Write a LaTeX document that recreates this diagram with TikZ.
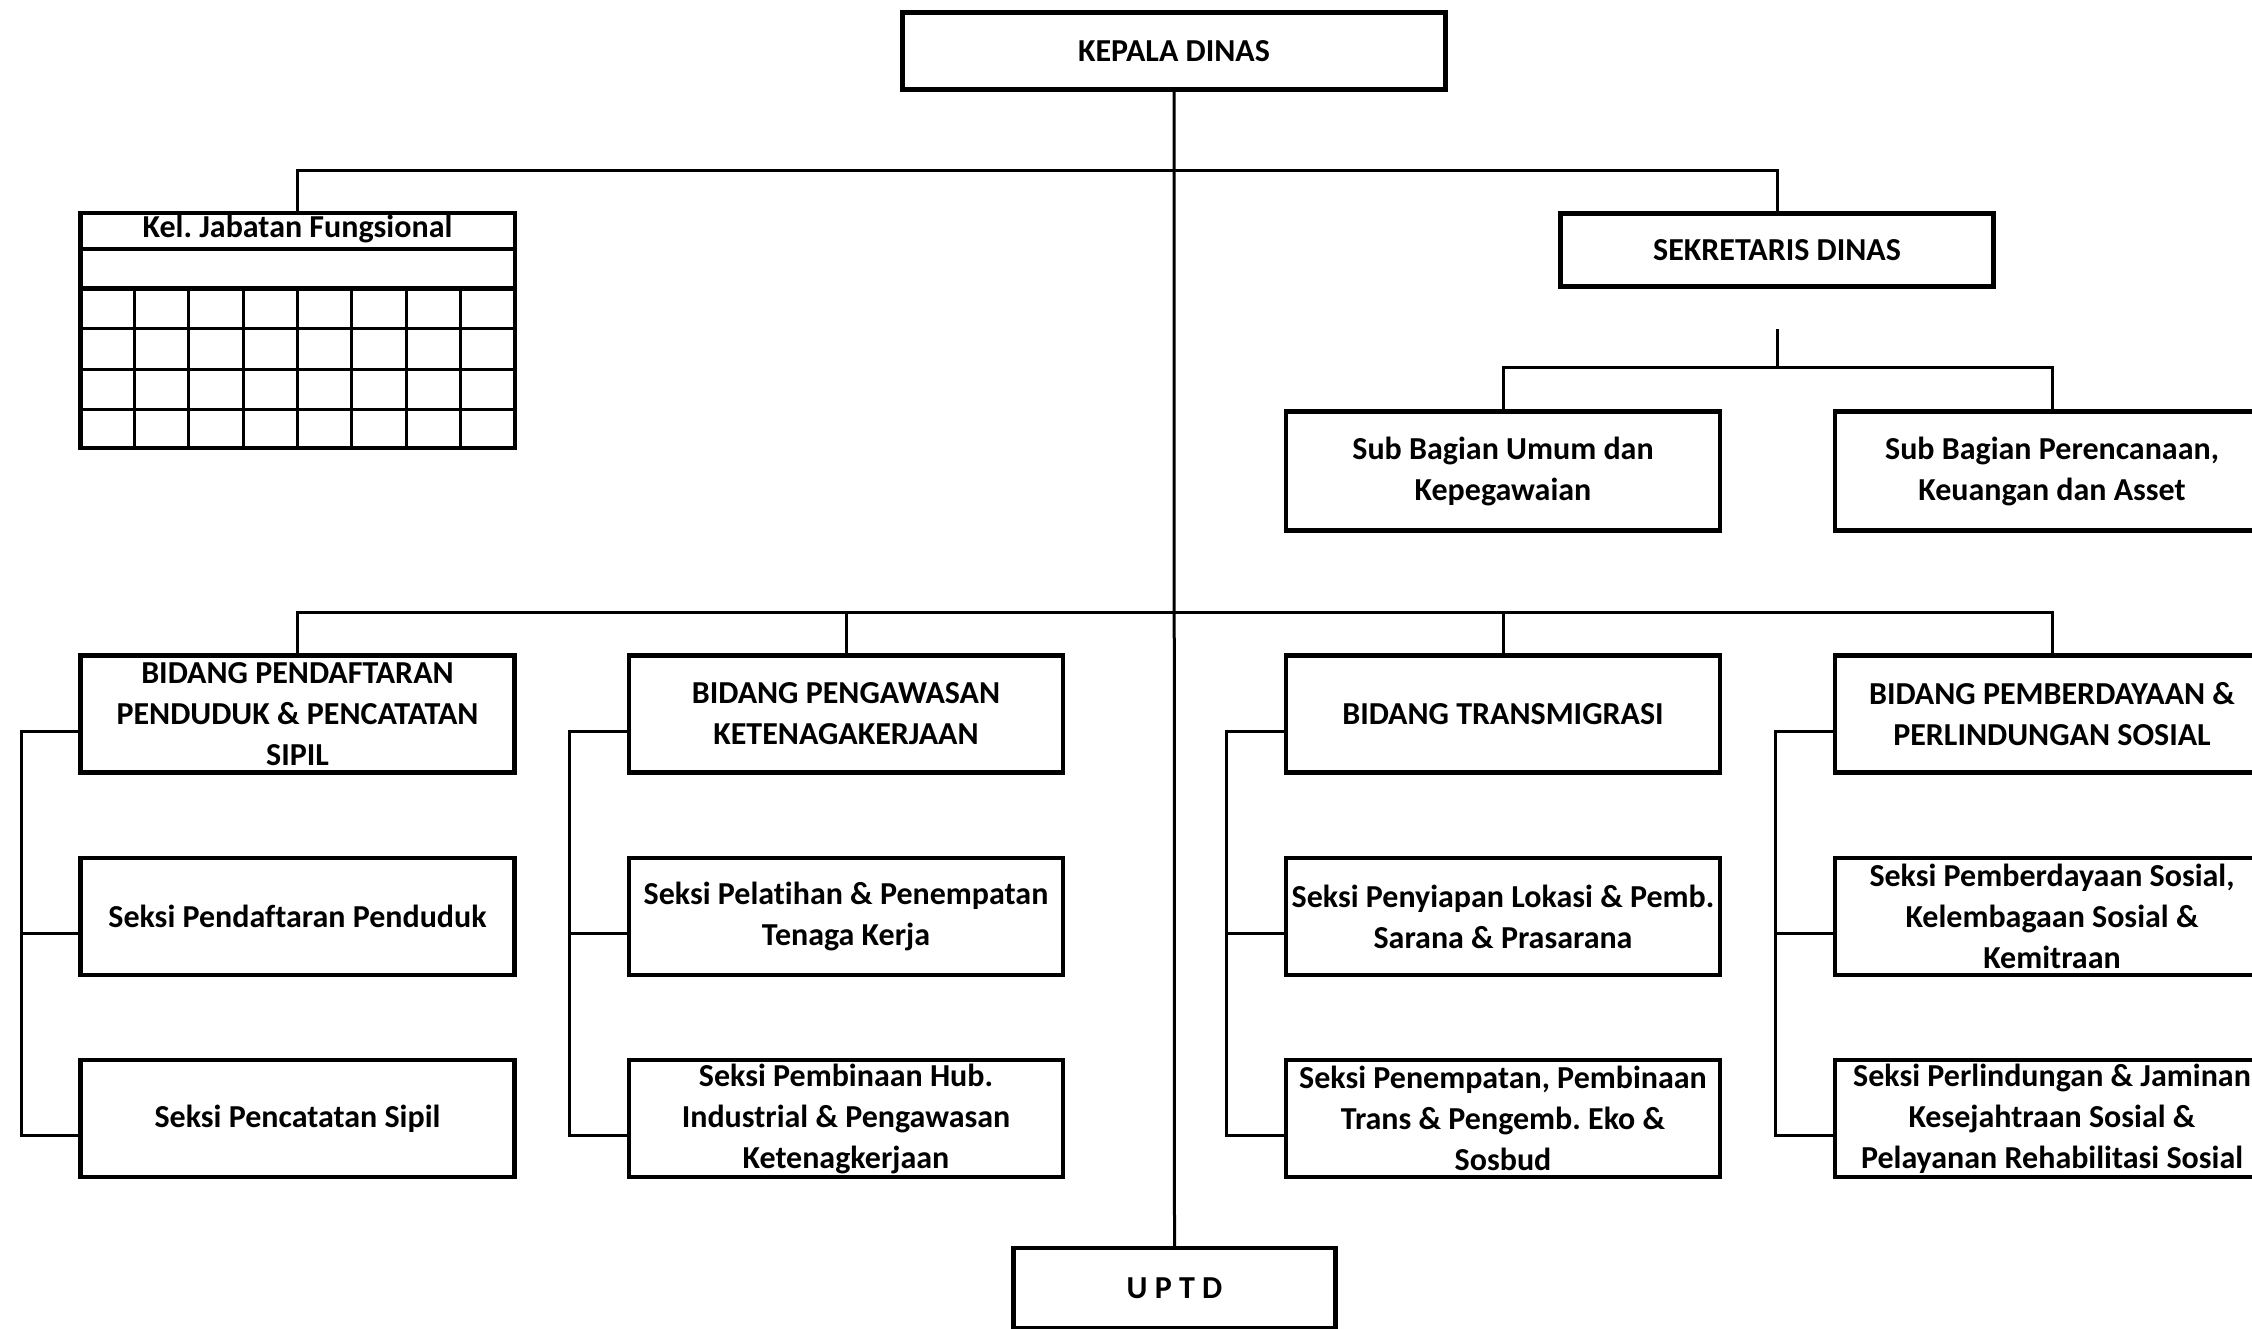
\documentclass[tikz,border=0pt]{standalone}
\usepackage{fontspec}
\newfontfamily\orgfont[Ligatures={NoCommon}]{Carlito}
\usetikzlibrary{calc}
\frenchspacing

\begin{document}
\begin{tikzpicture}[x=1pt,y=-1pt,
  boxfont/.style={font=\orgfont\bfseries\fontsize{32}{41}\selectfont},
  unit/.style={draw, line width=4.5pt, inner sep=0pt, align=center, boxfont,
               minimum width=434pt, minimum height=117pt},
  link/.style={line width=3pt},
  grid line/.style={line width=3pt},
  rule line/.style={line width=4.5pt}]

\useasboundingbox[fill=white] (0,0) rectangle (2252,1329);

% ---- top level
\node[unit, minimum width=543pt, minimum height=77pt] (kepala) at (1174,51) {KEPALA DINAS};
\node[unit, minimum width=433pt, minimum height=73pt] (sek) at (1777,250) {SEKRETARIS DINAS};

% ---- secretariat sub-sections
\node[unit, minimum height=119pt] (sub1) at (1503,471) {Sub Bagian Umum dan\\Kepegawaian};
\node[unit, minimum height=119pt] (sub2) at (2052,471) {Sub Bagian Perencanaan,\\Keuangan dan Asset};

% ---- functional group table
\node[draw, rule line, inner sep=0pt, minimum width=434.5pt, minimum height=234.5pt] (tbl) at (297.5,330.5) {};
\node[boxfont, inner sep=0pt] (jft) at (297.5,229) {Kel. Jabatan Fungsional};
\draw[rule line] (tbl.west |- 0,249) -- (tbl.east |- 0,249);
\draw[rule line] (tbl.west |- 0,288.5) -- (tbl.east |- 0,288.5);
\foreach \y in {329,369.5,410}
  \draw[grid line] (tbl.west |- 0,\y) -- (tbl.east |- 0,\y);
\foreach \k in {1,...,7}
  \draw[grid line] ({80.25+\k*54.3125},288.5) -- ({80.25+\k*54.3125},447.75);

% ---- divisions
\node[unit] (b1) at (297.5,714) {BIDANG PENDAFTARAN\\PENDUDUK \& PENCATATAN\\SIPIL};
\node[unit] (b2) at (846,714) {BIDANG PENGAWASAN\\KETENAGAKERJAAN};
\node[unit] (b3) at (1503,714) {BIDANG TRANSMIGRASI};
\node[unit] (b4) at (2052,714) {BIDANG PEMBERDAYAAN \&\\PERLINDUNGAN SOSIAL};

% ---- sections, middle row
\node[unit] (s11) at (297.5,916.5) {Seksi Pendaftaran Penduduk};
\node[unit] (s21) at (846,916.5) {Seksi Pelatihan \& Penempatan\\Tenaga Kerja};
\node[unit] (s31) at (1503,916.5) {Seksi Penyiapan Lokasi \& Pemb.\\Sarana \& Prasarana};
\node[unit] (s41) at (2052,916.5) {Seksi Pemberdayaan Sosial,\\Kelembagaan Sosial \&\\Kemitraan};

% ---- sections, bottom row
\node[unit] (s12) at (297.5,1118.5) {Seksi Pencatatan Sipil};
\node[unit] (s22) at (846,1118.5) {Seksi Pembinaan Hub.\\Industrial \& Pengawasan\\Ketenagkerjaan};
\node[unit] (s32) at (1503,1118.5) {Seksi Penempatan, Pembinaan\\Trans \& Pengemb. Eko \&\\Sosbud};
\node[unit] (s42) at (2052,1118.5) {Seksi Perlindungan \& Jaminan\\Kesejahtraan Sosial \&\\Pelayanan Rehabilitasi Sosial};

% ---- technical unit
\node[unit, minimum width=322pt, minimum height=80pt] (uptd) at (1174.5,1288) {U P T D};

% ---- main trunk and buses
\coordinate (busA) at (1174,171);
\coordinate (busB) at (1174,612);
\draw[link] (kepala.south) -- (uptd.north);
\draw[link] (tbl.north) |- (busA) -| (sek.north);
\draw[link] (b1.north) |- (busB) -| (b4.north);
\draw[link] (b2.north) -- (b2.north |- busB);
\draw[link] (b3.north) -- (b3.north |- busB);

% ---- secretariat bus (stem starts below the box)
\coordinate (sstem) at (1777,329);
\coordinate (sbus) at (1777,368);
\draw[link] (sstem) -- (sbus);
\draw[link] (sub1.north) |- (sbus) -| (sub2.north);

% ---- section rails on the left of each column
\foreach \b/\s/\t in {b1/s11/s12, b2/s21/s22, b3/s31/s32, b4/s41/s42}{
  \coordinate (tb) at ($(\b.north west)!.64!(\b.south west)$);
  \coordinate (ts) at ($(\s.north west)!.64!(\s.south west)$);
  \coordinate (tt) at ($(\t.north west)!.64!(\t.south west)$);
  \draw[link] (tb) -- ++(-57,0) coordinate (rail) -- (rail |- tt) -- (tt);
  \draw[link] (ts) -- (rail |- ts);
}
\end{tikzpicture}
\end{document}
